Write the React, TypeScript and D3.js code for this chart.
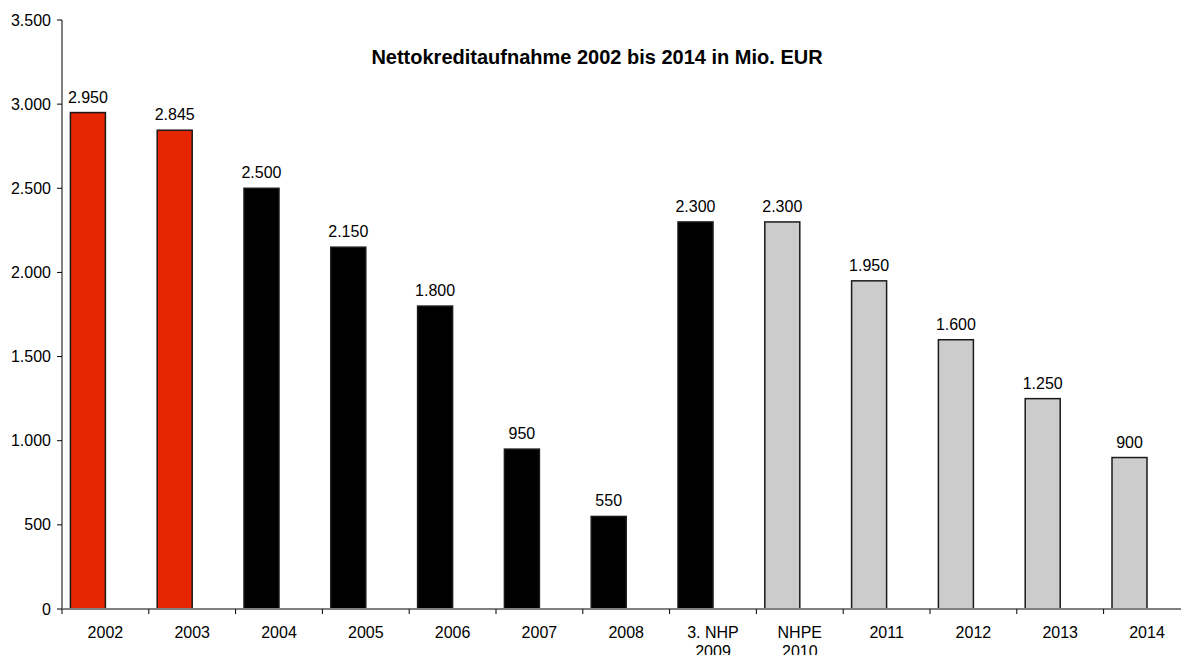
import React from "react";
import * as d3 from "d3";

const categories: string[][] = [
  ["2002"], ["2003"], ["2004"], ["2005"], ["2006"], ["2007"], ["2008"],
  ["3. NHP", "2009"], ["NHPE", "2010"], ["2011"], ["2012"], ["2013"], ["2014"],
];
const values: number[] = [2950, 2845, 2500, 2150, 1800, 950, 550, 2300, 2300, 1950, 1600, 1250, 900];
const groups: string[] = ["ist", "ist", "plan", "plan", "plan", "plan", "plan", "plan", "fin", "fin", "fin", "fin", "fin"];
const yTicks: number[] = [0, 500, 1000, 1500, 2000, 2500, 3000, 3500];
const title = "Nettokreditaufnahme 2002 bis 2014 in Mio. EUR";

const colors: Record<string, string> = { ist: "#E62600", plan: "#000000", fin: "#CCCCCC" };

const W = 1181, H = 655;
const left = 62, bottom = 609, top = 20;
const step = 86.8;

export default function App() {
  const keys = categories.map((c) => c.join(" "));
  const x = d3.scaleBand<string>().domain(keys).range([left, left + step * keys.length]).paddingInner(0).paddingOuter(0);
  const inner = d3.scaleBand<string>().domain(["a", "b"]).range([0, x.bandwidth()]).paddingInner(0).paddingOuter(0.24);
  const y = d3.scaleLinear().domain([0, 3500]).range([bottom, top]);
  const loc = d3.formatLocale({ decimal: ",", thousands: ".", grouping: [3], currency: ["", "€"] });
  const fmt = loc.format(",d");
  const font = "'Liberation Sans', Arial, sans-serif";

  return (
    <svg width={W} height={H} style={{ position: "absolute", left: 0, top: 0, background: "#fff" }} fontFamily={font}>
      <text x={597} y={64} textAnchor="middle" fontSize={20} fontWeight="bold" fill="#000">{title}</text>
      {/* bars */}
      {values.map((v, i) => {
        const bx = (x(keys[i]) as number) + (inner("a") as number);
        const bw = inner.bandwidth();
        return (
          <g key={i}>
            <rect x={bx} y={y(v)} width={bw} height={y(0) - y(v)} fill={colors[groups[i]]} stroke="#1a1a1a" strokeWidth={1.5} />
            <text x={bx + bw / 2} y={y(v) - 10} textAnchor="middle" fontSize={16} fill="#000">{fmt(v)}</text>
          </g>
        );
      })}
      {/* y axis */}
      <line x1={left} x2={left} y1={top} y2={bottom} stroke="#808080" strokeWidth={2} />
      {yTicks.map((t) => (
        <g key={t}>
          <line x1={left - 5} x2={left} y1={y(t)} y2={y(t)} stroke="#000" strokeWidth={1} />
          <text x={51} y={y(t)} dy="0.35em" textAnchor="end" fontSize={16} fill="#000">{fmt(t)}</text>
        </g>
      ))}
      {/* x axis */}
      <line x1={left} x2={W} y1={bottom} y2={bottom} stroke="#808080" strokeWidth={2} />
      {keys.map((k, i) => (
        <line key={"t" + i} x1={x(k) as number} x2={x(k) as number} y1={bottom} y2={bottom + 5} stroke="#000" strokeWidth={1} />
      ))}
      {categories.map((c, i) => (
        <text key={"c" + i} x={(x(keys[i]) as number) + x.bandwidth() / 2} y={638} textAnchor="middle" fontSize={16} fill="#000">
          {c.map((line, j) => (
            <tspan key={j} x={(x(keys[i]) as number) + x.bandwidth() / 2} dy={j === 0 ? 0 : 19}>{line}</tspan>
          ))}
        </text>
      ))}
    </svg>
  );
}
